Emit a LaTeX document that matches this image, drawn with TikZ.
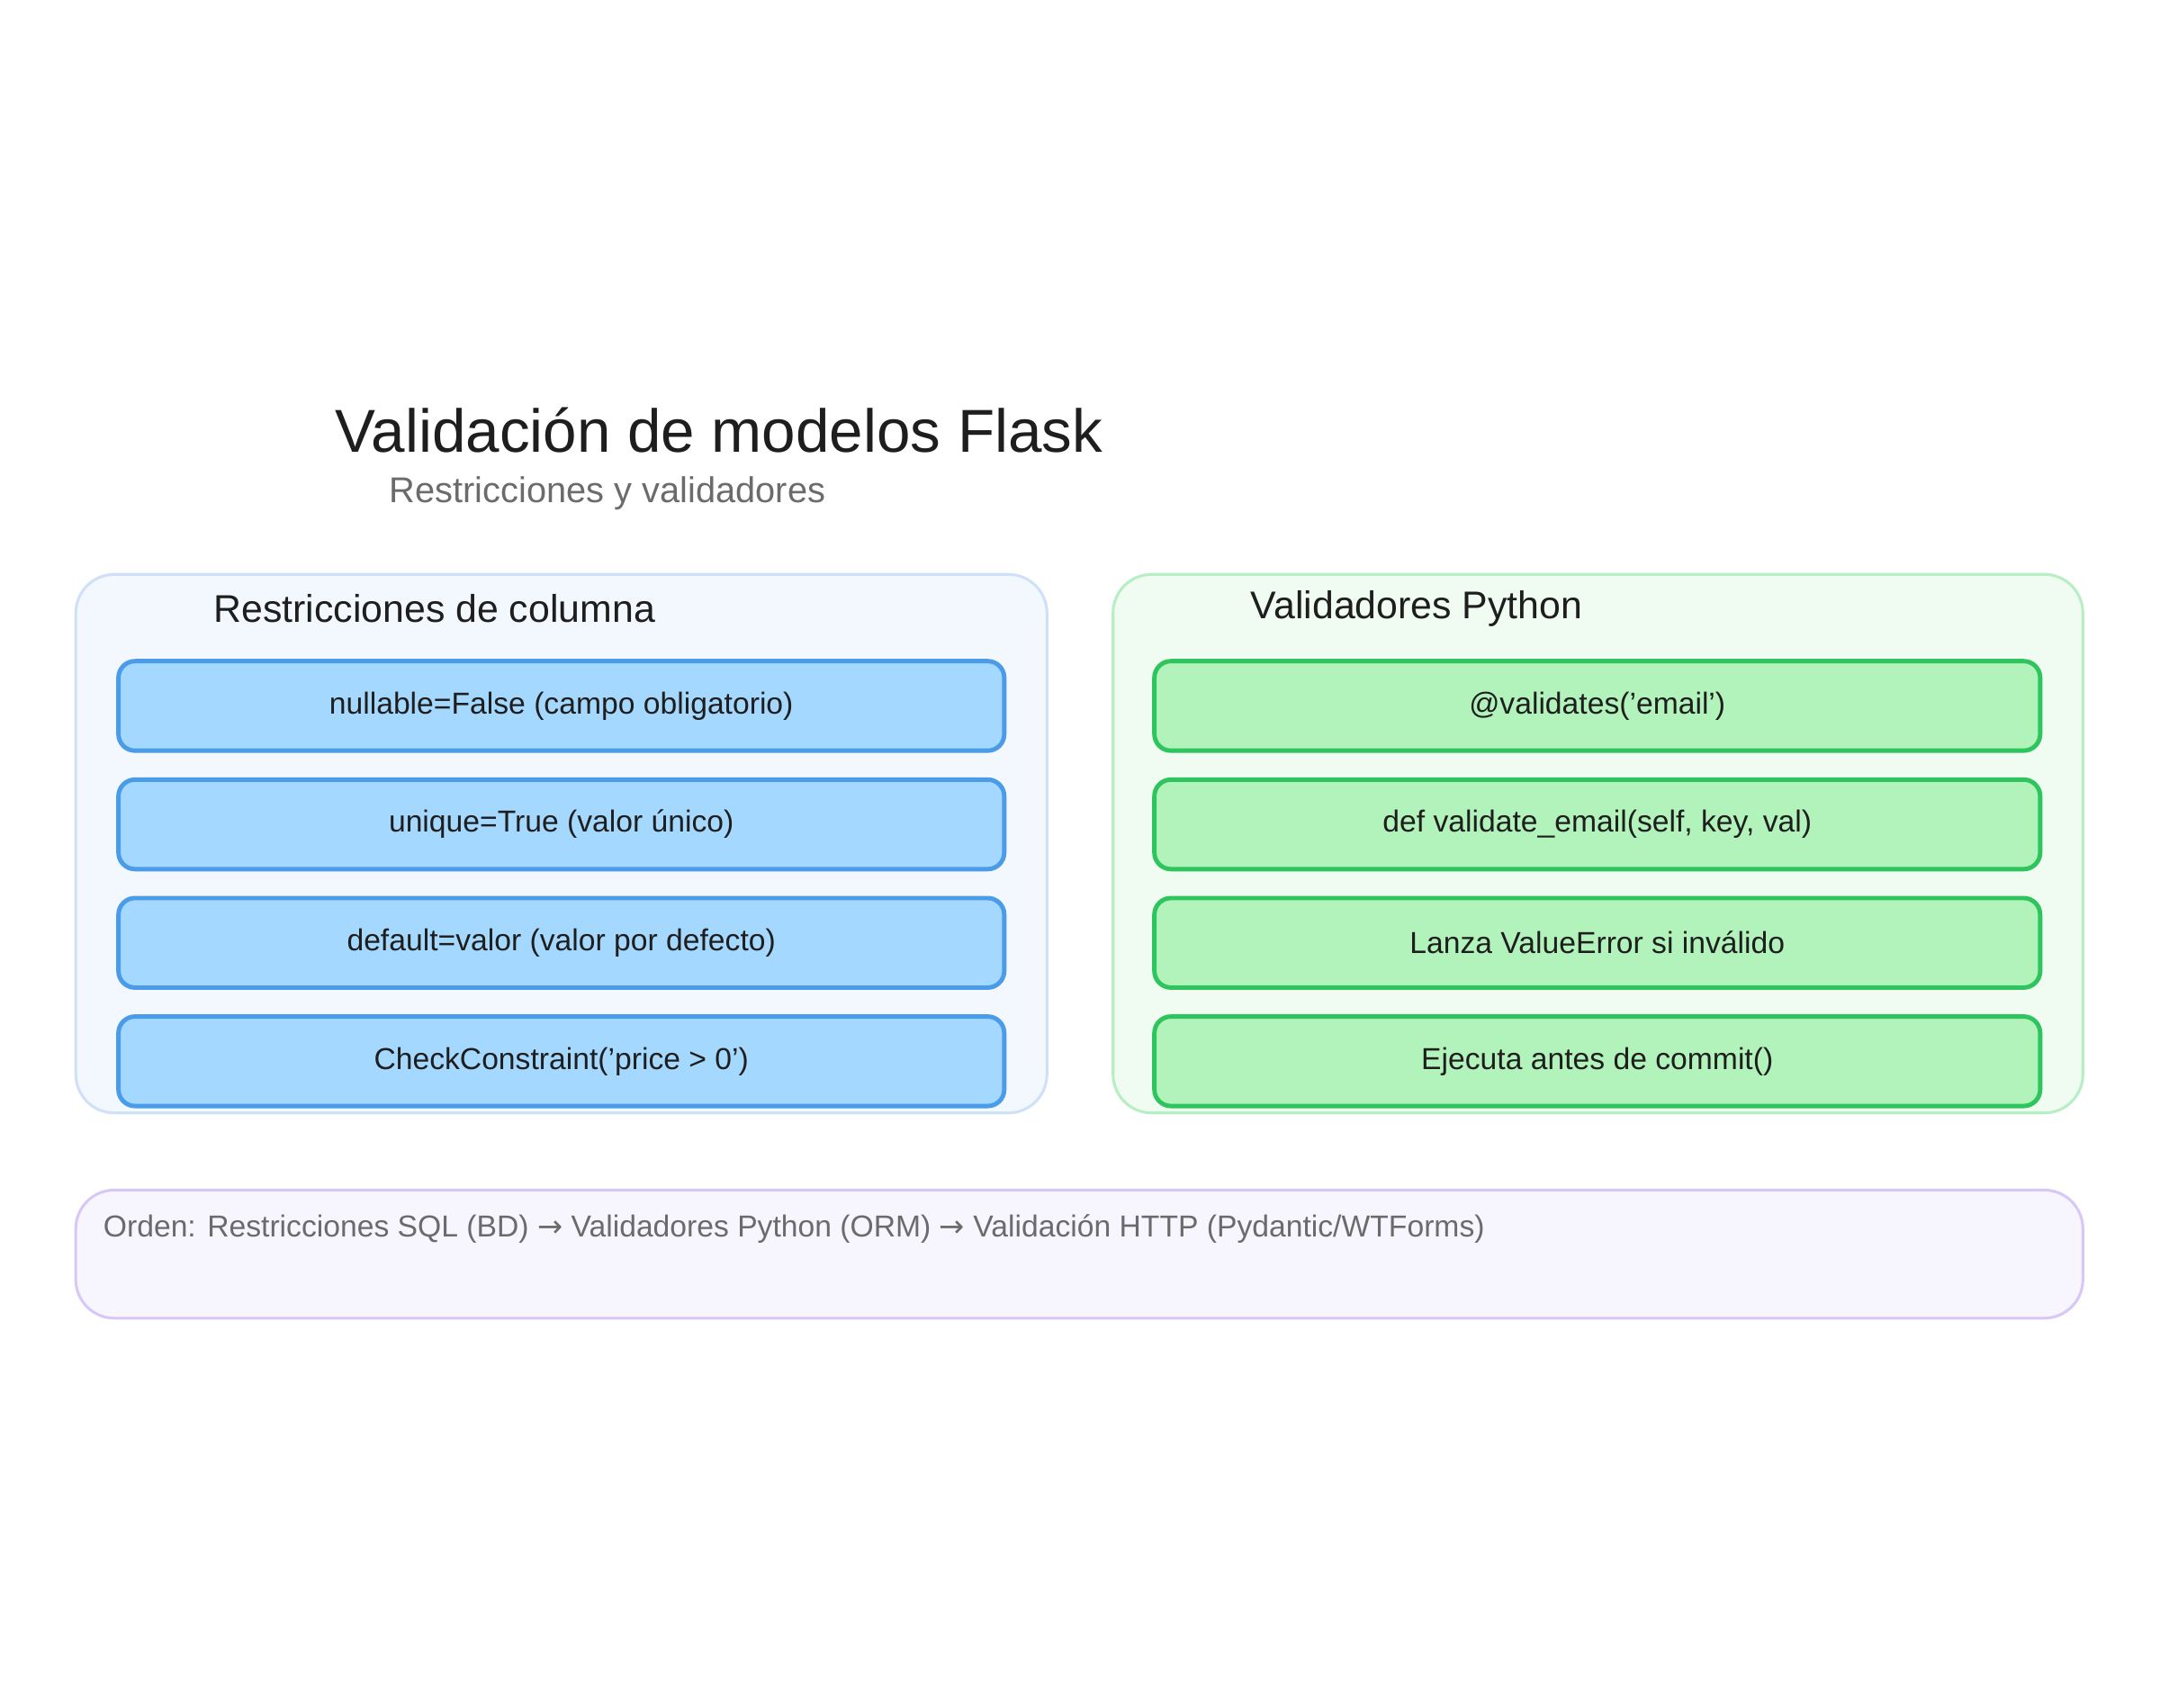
\documentclass[tikz,border=0pt]{standalone}
\usepackage{fontspec}
\setmainfont{Liberation Sans}
\newfontfamily\arr{DejaVu Sans}
\definecolor{lfill}{HTML}{F3F7FE}
\definecolor{lline}{HTML}{CFE0F7}
\definecolor{bfill}{HTML}{A5D8FF}
\definecolor{bline}{HTML}{4A9BE8}
\definecolor{rfill}{HTML}{F0FBF2}
\definecolor{rline}{HTML}{B8EEC4}
\definecolor{gfill}{HTML}{B2F2BB}
\definecolor{gline}{HTML}{2FC55E}
\definecolor{pfill}{HTML}{F7F5FE}
\definecolor{pline}{HTML}{D8C8F8}
\definecolor{txt}{HTML}{1E1E1E}
\definecolor{gr}{HTML}{6B6B6B}
\begin{document}
\begin{tikzpicture}[x=0.5pt,y=-0.5pt,
  cont/.style={draw, line width=1pt, rounded corners=14pt},
  item/.style={draw, line width=1.6pt, rounded corners=6pt, minimum width=321.5pt, minimum height=32.5pt, font=\fontsize{11}{13}\selectfont, text=txt},
  blue/.style={item, fill=bfill, draw=bline},
  green/.style={item, fill=gfill, draw=gline}]
\useasboundingbox (0,0) rectangle (1568,1240);
\node[font=\fontsize{22}{26}\selectfont, text=txt] (title) at (522,312) {Validación de modelos Flask};
\node[font=\fontsize{13}{16}\selectfont, text=gr] (sub) at (441,358) {Restricciones y validadores};
\draw[cont, fill=lfill, draw=lline] (55,417) rectangle (760,808);
\draw[cont, fill=rfill, draw=rline] (808,417) rectangle (1512,808);
\node[font=\fontsize{14}{17}\selectfont, text=txt, anchor=west] (lt) at (148,442) {Restricciones de columna};
\node[font=\fontsize{14}{17}\selectfont, text=txt, anchor=west] (rt) at (901,442) {Validadores Python};
\node[blue] (b1) at (407.5,512.5) {nullable=False (campo obligatorio)};
\node[blue] (b2) at (407.5,598.5) {unique=True (valor único)};
\node[blue] (b3) at (407.5,684.5) {default=valor (valor por defecto)};
\node[blue] (b4) at (407.5,770.5) {CheckConstraint('price > 0')};
\node[green] (g1) at (1159.5,512.5) {@validates('email')};
\node[green] (g2) at (1159.5,598.5) {def validate\_email(self, key, val)};
\node[green] (g3) at (1159.5,684.5) {Lanza ValueError si inválido};
\node[green] (g4) at (1159.5,770.5) {Ejecuta antes de commit()};
\draw[cont, fill=pfill, draw=pline] (55,864) rectangle (1512,957);
\node[anchor=west, font=\fontsize{11}{13}\selectfont, text=gr] (note) at (68,892) {Orden: Restricciones SQL (BD) {\arr→} Validadores Python (ORM) {\arr→} Validación HTTP (Pydantic/WTForms)};
\end{tikzpicture}
\end{document}
